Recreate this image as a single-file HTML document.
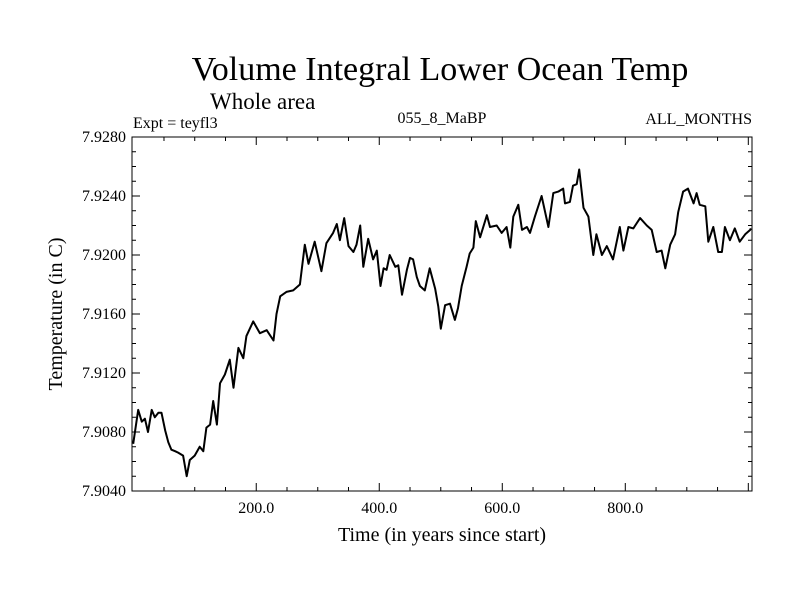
<!DOCTYPE html>
<html><head><meta charset="utf-8"><style>
body{margin:0;background:#fff}
svg{display:block;font-family:"Liberation Serif",serif}
</style></head><body>
<svg id="chart" width="800" height="600">
<text x="440" y="80" font-size="34" text-anchor="middle">Volume Integral Lower Ocean Temp</text>
<text x="210" y="109" font-size="23">Whole area</text>
<text x="133" y="128" font-size="16">Expt = teyfl3</text>
<text x="442" y="123" font-size="16" text-anchor="middle">055_8_MaBP</text>
<text x="752" y="124" font-size="16" text-anchor="end">ALL_MONTHS</text>
<text x="442" y="541" font-size="20" text-anchor="middle">Time (in years since start)</text>
<text transform="translate(62,314) rotate(-90)" font-size="20" text-anchor="middle">Temperature (in C)</text>
<g id="axes"></g>
<path id="line" fill="none" stroke="#000" stroke-width="2" stroke-linejoin="round"></path>
<rect x="132" y="137" width="620" height="354" fill="none" stroke="#000" stroke-width="1"></rect>
</svg>
<script>
const years=[0,8,14,19,24,30,35,41,46,52,57,62,68,73,81,87,92,100,108,114,119,125,130,136,141,149,157,163,171,179,184,195,206,217,228,233,239,249,260,271,279,285,295,306,314,325,331,336,343,350,358,363,369,374,382,390,396,402,407,412,417,426,431,437,445,450,455,461,466,474,482,491,496,500,507,515,523,528,534,542,547,553,557,564,575,580,591,599,607,613,618,626,632,640,645,653,664,675,683,691,699,702,710,715,721,725,732,740,748,753,762,770,780,791,797,805,813,824,835,843,851,859,865,873,881,886,894,902,911,916,921,930,935,943,951,957,962,970,978,986,995,1003,1004];
const temps=[7.9072,7.9095,7.9087,7.9089,7.9080,7.9095,7.9090,7.9093,7.9093,7.9081,7.9073,7.9068,7.9067,7.9066,7.9064,7.9050,7.9061,7.9064,7.9070,7.9067,7.9083,7.9085,7.9101,7.9085,7.9113,7.9119,7.9129,7.9110,7.9137,7.9130,7.9145,7.9155,7.9147,7.9149,7.9142,7.9160,7.9172,7.9175,7.9176,7.9180,7.9207,7.9194,7.9209,7.9189,7.9208,7.9215,7.9221,7.9210,7.9225,7.9206,7.9202,7.9207,7.9220,7.9192,7.9211,7.9197,7.9203,7.9179,7.9191,7.9190,7.9200,7.9192,7.9193,7.9173,7.9190,7.9198,7.9197,7.9185,7.9179,7.9176,7.9191,7.9177,7.9165,7.9150,7.9166,7.9167,7.9156,7.9164,7.9179,7.9192,7.9201,7.9205,7.9223,7.9212,7.9227,7.9219,7.9220,7.9215,7.9219,7.9205,7.9226,7.9234,7.9217,7.9219,7.9215,7.9226,7.9240,7.9219,7.9242,7.9243,7.9245,7.9235,7.9236,7.9247,7.9248,7.9258,7.9232,7.9226,7.9200,7.9214,7.9200,7.9206,7.9197,7.9219,7.9203,7.9219,7.9218,7.9225,7.9220,7.9217,7.9202,7.9203,7.9191,7.9207,7.9214,7.9229,7.9243,7.9245,7.9235,7.9242,7.9234,7.9233,7.9209,7.9219,7.9202,7.9202,7.9219,7.9210,7.9218,7.9209,7.9214,7.9217,7.9218];
const yTickLabels=["7.9040","7.9080","7.9120","7.9160","7.9200","7.9240","7.9280"];
const xTickLabels=["200.0","400.0","600.0","800.0"];
const xMin=-2,xMax=1006,yMin=7.904,yMax=7.928;
const L=132,R=752,T=137,B=491;
const xs=v=>L+(v-xMin)/(xMax-xMin)*(R-L);
const ys=v=>B-(v-yMin)/(yMax-yMin)*(B-T);
const NS="http://www.w3.org/2000/svg";
const ax=document.getElementById('axes');
function ln(x1,y1,x2,y2,name){const l=document.createElementNS(NS,'line');
l.setAttribute('x1',x1);l.setAttribute('y1',y1);l.setAttribute('x2',x2);l.setAttribute('y2',y2);
l.setAttribute('stroke','#000');l.setAttribute('stroke-width','1');


ax.appendChild(l);}
function tx(x,y,s,anchor,name){const t=document.createElementNS(NS,'text');
t.setAttribute('x',x);t.setAttribute('y',y);t.setAttribute('font-size','16');t.setAttribute('text-anchor',anchor);t.textContent=s;


ax.appendChild(t);}
for(let i=0;i<=24;i++){const v=yMin+i*0.001,y=ys(v),maj=i%4===0,len=maj?8:4;
ln(L,y,L+len,y,'y-tick');ln(R,y,R-len,y,'y-tick-right');}
yTickLabels.forEach(s=>{tx(L-6,ys(parseFloat(s))+5,s,'end','y-tick-label');});
for(let v=50;v<xMax;v+=50){const x=xs(v),maj=v%200===0,len=maj?8:4;
ln(x,B,x,B-len,'x-tick');ln(x,T,x,T+len,'x-tick-top');}
xTickLabels.forEach(s=>{tx(xs(parseFloat(s)),513,s,'middle','x-tick-label');});
let d='';years.forEach((yr,i)=>{d+=(i?'L':'M')+xs(yr).toFixed(1)+','+ys(temps[i]).toFixed(1);});
document.getElementById('line').setAttribute('d',d);
</script>
</body></html>
